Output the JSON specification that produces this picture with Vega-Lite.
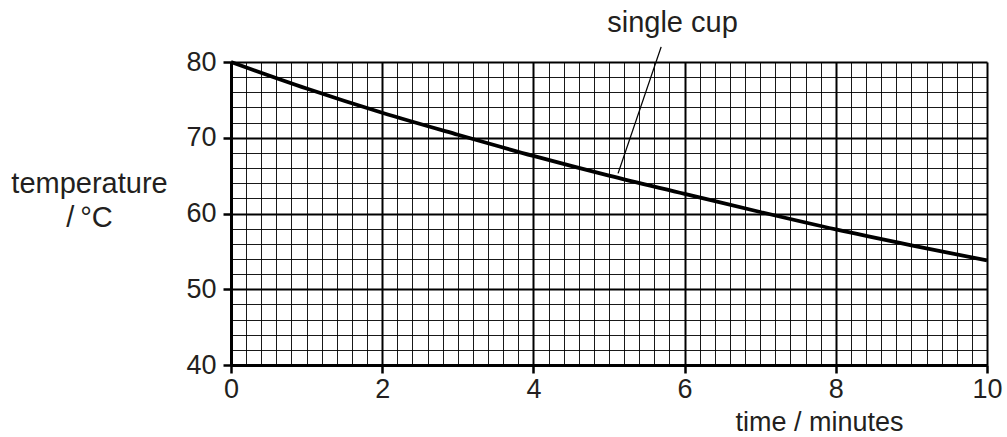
{
  "$schema": "https://vega.github.io/schema/vega-lite/v6.json",
  "width": 756,
  "height": 303,
  "autosize": {"type": "none"},
  "padding": {"left": 231, "top": 62, "right": 20, "bottom": 72},
  "background": "white",
  "config": {
    "view": {"stroke": null},
    "font": "Liberation Sans",
    "axis": {"labelFont": "Liberation Sans", "titleFont": "Liberation Sans", "labelColor": "#231f20", "titleColor": "#231f20", "titleFontWeight": "normal"}
  },
  "datasets": {
    "curve": [
      {"t": 0, "temp": 80.0},
      {"t": 1, "temp": 76.5},
      {"t": 2, "temp": 73.3},
      {"t": 3, "temp": 70.4},
      {"t": 4, "temp": 67.6},
      {"t": 5, "temp": 65.0},
      {"t": 6, "temp": 62.6},
      {"t": 7, "temp": 60.2},
      {"t": 8, "temp": 57.9},
      {"t": 9, "temp": 55.8},
      {"t": 10, "temp": 53.8}
    ],
    "leader": [
      {"t": 5.12, "temp": 65.3, "t2": 5.69, "temp2": 82.0}
    ],
    "label": [
      {"t": 5.84, "temp": 83.96, "text": "single cup"}
    ]
  },
  "layer": [
    {
      "data": {"name": "curve"},
      "mark": {"type": "line", "color": "black", "strokeWidth": 3.8, "interpolate": "monotone"},
      "encoding": {
        "x": {
          "field": "t", "type": "quantitative",
          "scale": {"domain": [0, 10], "nice": false, "zero": false},
          "axis": {
            "title": "time / minutes",
            "titleFontSize": 27,
            "titleAlign": "center",
            "titleBaseline": "alphabetic",
            "titleX": 588,
            "titleY": 65,
            "tickCount": 200,
            "values": [0,0.2,0.4,0.6,0.8,1,1.2,1.4,1.6,1.8,2,2.2,2.4,2.6,2.8,3,3.2,3.4,3.6,3.8,4,4.2,4.4,4.6,4.8,5,5.2,5.4,5.6,5.8,6,6.2,6.4,6.6,6.8,7,7.2,7.4,7.6,7.8,8,8.2,8.4,8.6,8.8,9,9.2,9.4,9.6,9.8,10],
            "labelExpr": "abs(datum.value/2 - round(datum.value/2)) < 0.001 ? format(datum.value, 'd') : ''",
            "labelFontSize": 27,
            "labelPadding": 3,
            "labelFlush": false,
            "labelOverlap": false,
            "labelBound": false,
            "grid": true,
            "gridColor": "black",
            "gridWidth": {"condition": {"test": "abs(datum.value/2 - round(datum.value/2)) < 0.001", "value": 2}, "value": 1},
            "gridOpacity": {"condition": {"test": "abs(datum.value/2 - round(datum.value/2)) < 0.001", "value": 1}, "value": 0.9},
            "ticks": true,
            "tickColor": "black",
            "tickWidth": 2.5,
            "tickSize": 8,
            "tickOpacity": {"condition": {"test": "abs(datum.value/2 - round(datum.value/2)) < 0.001", "value": 1}, "value": 0},
            "domain": true,
            "domainColor": "black",
            "domainWidth": 3
          }
        },
        "y": {
          "field": "temp", "type": "quantitative",
          "scale": {"domain": [40, 80], "nice": false, "zero": false},
          "axis": {
            "title": ["temperature", "/\u2009°C"],
            "titleFontSize": 29,
            "titleAngle": 0,
            "titleAlign": "center",
            "titleBaseline": "alphabetic",
            "titleLineHeight": 34,
            "titleX": -142,
            "titleY": 130,
            "tickCount": 200,
            "values": [40,42,44,46,48,50,52,54,56,58,60,62,64,66,68,70,72,74,76,78,80],
            "labelExpr": "datum.value % 10 === 0 ? format(datum.value, 'd') : ''",
            "labelFontSize": 27,
            "labelPadding": 7,
            "labelFlush": false,
            "labelOverlap": false,
            "labelBound": false,
            "grid": true,
            "gridColor": "black",
            "gridWidth": {"condition": {"test": "datum.value % 10 === 0", "value": 2}, "value": 1},
            "gridOpacity": {"condition": {"test": "datum.value % 10 === 0", "value": 1}, "value": 0.9},
            "ticks": true,
            "tickColor": "black",
            "tickWidth": 2.5,
            "tickSize": 8,
            "tickOpacity": {"condition": {"test": "datum.value % 10 === 0", "value": 1}, "value": 0},
            "domain": true,
            "domainColor": "black",
            "domainWidth": 3
          }
        }
      }
    },
    {
      "data": {"name": "leader"},
      "mark": {"type": "rule", "color": "black", "strokeWidth": 1.3},
      "encoding": {
        "x": {"field": "t", "type": "quantitative"},
        "y": {"field": "temp", "type": "quantitative"},
        "x2": {"field": "t2"},
        "y2": {"field": "temp2"}
      }
    },
    {
      "data": {"name": "label"},
      "mark": {"type": "text", "fontSize": 29, "font": "Liberation Sans", "color": "#231f20", "align": "center", "baseline": "alphabetic"},
      "encoding": {
        "x": {"field": "t", "type": "quantitative"},
        "y": {"field": "temp", "type": "quantitative"},
        "text": {"field": "text"}
      }
    }
  ]
}
